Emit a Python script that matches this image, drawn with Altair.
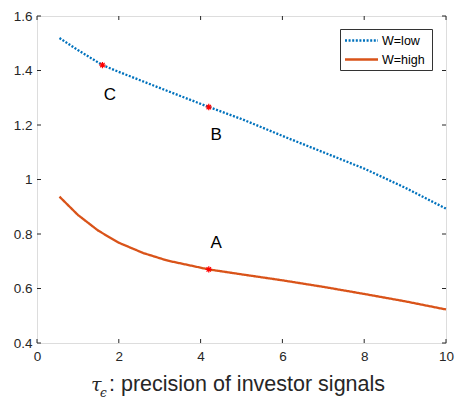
import altair as alt
import pandas as pd

# ---- data ----
low_x = [0.55, 1.0, 1.6, 2.0, 3.0, 4.2, 5.0, 6.0, 7.0, 8.0, 9.0, 10.0]
low_y = [1.519, 1.475, 1.42, 1.395, 1.336, 1.266, 1.222, 1.16, 1.10, 1.04, 0.97, 0.893]
high_x = [0.55, 1.0, 1.5, 2.0, 2.6, 3.2, 4.2, 5.0, 6.0, 7.0, 8.0, 9.0, 10.0]
high_y = [0.937, 0.87, 0.812, 0.768, 0.73, 0.702, 0.670, 0.652, 0.630, 0.606, 0.580, 0.553, 0.523]
star_x = [4.2, 4.2, 1.6]
star_y = [0.670, 1.266, 1.42]
lab_text = ["A", "B", "C"]
lab_x = [4.38, 4.38, 1.78]
lab_y = [0.768, 1.163, 1.31]
x_ticks = [0, 2, 4, 6, 8, 10]
y_ticks = [0.4, 0.6, 0.8, 1.0, 1.2, 1.4, 1.6]
series = ["W=low", "W=high"]
colors = ["#0072BD", "#D95319"]
dashes = [[2, 1.6], [1, 0]]

FONT = "Liberation Sans"
AX = "#262626"

lines = pd.DataFrame(
    {"x": low_x + high_x, "y": low_y + high_y,
     "s": ["W=low"] * len(low_x) + ["W=high"] * len(high_x)}
)
stars = pd.DataFrame({"x": star_x, "y": star_y})
labels = pd.DataFrame({"x": lab_x, "y": lab_y, "t": lab_text})
xt = pd.DataFrame({"x": x_ticks})
yt = pd.DataFrame({"y": y_ticks})

xs = alt.Scale(domain=[0, 10], nice=False)
ys = alt.Scale(domain=[0.4, 1.6], nice=False)
cs = alt.Scale(domain=series, range=colors)
ds = alt.Scale(domain=series, range=dashes)

xaxis = alt.Axis(values=x_ticks, ticks=False, grid=False, domain=False,
                 labelFont=FONT, labelFontSize=13.5, labelColor=AX, labelPadding=6,
                 title=None, labelFlush=False)
yaxis = alt.Axis(values=y_ticks, ticks=False, grid=False, domain=False,
                 labelFont=FONT, labelFontSize=13.5, labelColor=AX, labelPadding=5,
                 title=None, format="~g")

line = alt.Chart(lines).mark_line(strokeWidth=2.3).encode(
    x=alt.X("x:Q", scale=xs, axis=xaxis),
    y=alt.Y("y:Q", scale=ys, axis=yaxis),
    color=alt.Color("s:N", scale=cs, legend=None),
    strokeDash=alt.StrokeDash("s:N", scale=ds, legend=None),
)

star_path = "M-1,0L1,0M0,-1L0,1M-0.7,-0.7L0.7,0.7M-0.7,0.7L0.7,-0.7"
star = alt.Chart(stars).mark_point(shape=star_path, size=40, color="red", filled=False,
                                   strokeWidth=1.2, opacity=1).encode(
    x=alt.X("x:Q", scale=xs), y=alt.Y("y:Q", scale=ys))

txt = alt.Chart(labels).mark_text(font=FONT, fontSize=17, color="black").encode(
    x=alt.X("x:Q", scale=xs), y=alt.Y("y:Q", scale=ys), text="t:N")

# inward ticks
xb = alt.Chart(xt).mark_rule(color=AX, strokeWidth=1).encode(
    x=alt.X("x:Q", scale=xs), y=alt.value(327), y2=alt.value(323))
xtop = alt.Chart(xt).mark_rule(color=AX, strokeWidth=1).encode(
    x=alt.X("x:Q", scale=xs), y=alt.value(0), y2=alt.value(4))
yl = alt.Chart(yt).mark_rule(color=AX, strokeWidth=1).encode(
    y=alt.Y("y:Q", scale=ys), x=alt.value(0), x2=alt.value(4))
yr = alt.Chart(yt).mark_rule(color=AX, strokeWidth=1).encode(
    y=alt.Y("y:Q", scale=ys), x=alt.value(409), x2=alt.value(405))

# legend (drawn by hand)
leg_box = alt.Chart(pd.DataFrame({"a": [0]})).mark_rect(
    fill="white", stroke="#333", strokeWidth=1).encode(
    x=alt.value(303.5), x2=alt.value(395.5), y=alt.value(13.5), y2=alt.value(54.5))
leg_lines = alt.layer(*[
    alt.Chart(pd.DataFrame({"s": [s]})).mark_rule(strokeWidth=2.5, strokeDash=d).encode(
        color=alt.Color("s:N", scale=cs, legend=None),
        x=alt.value(308), x2=alt.value(341), y=alt.value(yy))
    for s, d, yy in zip(series, dashes, [24.5, 43.5])
])
leg_text = alt.layer(*[
    alt.Chart(pd.DataFrame({"s": [s]})).mark_text(
        font=FONT, fontSize=12.5, align="left", baseline="middle", color="black").encode(
        text="s:N", x=alt.value(345), y=alt.value(yy))
    for s, yy in zip(series, [25, 44])
])

# x title with subscript
tau = alt.Chart(pd.DataFrame({"t": ["τ"]})).mark_text(
    font="DejaVu Serif", fontStyle="italic", fontSize=19, align="left", baseline="alphabetic",
    color=AX).encode(x=alt.value(54), y=alt.value(375), text="t:N")
eps = alt.Chart(pd.DataFrame({"t": ["ϵ"]})).mark_text(
    font="DejaVu Serif", fontStyle="italic", fontSize=12, align="left", baseline="alphabetic",
    color=AX).encode(x=alt.value(63), y=alt.value(381), text="t:N")
rest = alt.Chart(pd.DataFrame({"t": [": precision of investor signals"]})).mark_text(
    font=FONT, fontSize=21.5, align="left", baseline="alphabetic",
    color=AX).encode(x=alt.value(72), y=alt.value(375), text="t:N")

chart = alt.layer(line, star, txt, xb, xtop, yl, yr, leg_box, leg_lines, leg_text,
                  tau, eps, rest).properties(
    width=409, height=327,
    padding={"left": 37, "top": 16, "right": 9, "bottom": 57},
    autosize="none",
).configure_view(stroke=AX, strokeWidth=1).configure(background="white")

chart.save("out.html", embed_options={"renderer": "svg", "actions": False})
